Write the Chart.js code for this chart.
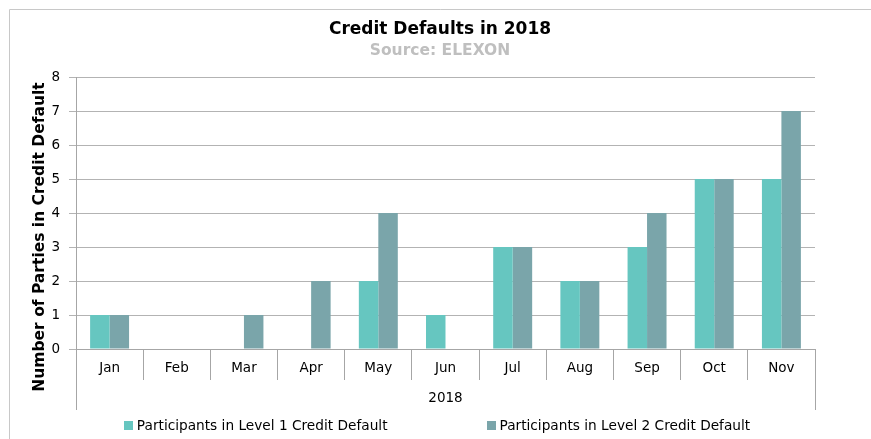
<!DOCTYPE html>
<html>
<head>
<meta charset="utf-8">
<script src="https://cdn.jsdelivr.net/npm/chart.js@4.4.1/dist/chart.umd.min.js"></script>
<style>
  html, body { margin: 0; padding: 0; background: #fff; }
  #wrap { width: 871px; height: 439px; }
</style>
</head>
<body>
<div id="wrap"><canvas id="myChart" width="871" height="439"></canvas></div>
<script>
var months = ['Jan', 'Feb', 'Mar', 'Apr', 'May', 'Jun', 'Jul', 'Aug', 'Sep', 'Oct', 'Nov'];
var level1 = [1, 0, 0, 0, 2, 1, 3, 2, 3, 5, 5];
var level2 = [1, 0, 1, 2, 4, 0, 3, 2, 4, 5, 7];
var yTicks = [0, 1, 2, 3, 4, 5, 6, 7, 8];

var FONT = '"DejaVu Sans", sans-serif';

// outer frame, y title, long end dividers and legend
var extras = {
  id: 'extras',
  beforeDraw: function (chart) {
    var ctx = chart.ctx;
    ctx.save();
    ctx.strokeStyle = '#c8c8c8';
    ctx.lineWidth = 1;
    ctx.beginPath();
    ctx.moveTo(9.5, chart.height);
    ctx.lineTo(9.5, 9.5);
    ctx.lineTo(chart.width, 9.5);
    ctx.stroke();
    ctx.restore();
  },
  afterDraw: function (chart) {
    var ctx = chart.ctx;
    var area = chart.chartArea;
    var x = chart.scales.x;
    ctx.save();
    // end dividers go down past the year label
    ctx.strokeStyle = '#a6a6a6';
    ctx.lineWidth = 1;
    ctx.beginPath();
    [x.left, x.right].forEach(function (px) {
      ctx.moveTo(Math.round(px) + 0.5, area.bottom);
      ctx.lineTo(Math.round(px) + 0.5, area.bottom + 61);
    });
    ctx.stroke();

    // y axis title
    ctx.fillStyle = '#000';
    ctx.font = 'bold 15.5px ' + FONT;
    ctx.textAlign = 'center';
    ctx.textBaseline = 'middle';
    ctx.translate(40, 237);
    ctx.rotate(-Math.PI / 2);
    ctx.fillText('Number of Parties in Credit Default', 0, 0);
    ctx.setTransform(1, 0, 0, 1, 0, 0);

    // legend
    ctx.font = '13.7px ' + FONT;
    ctx.textAlign = 'left';
    var items = chart.data.datasets.map(function (ds) {
      return { text: ds.label, color: ds.backgroundColor, w: ctx.measureText(ds.label).width };
    });
    var box = 9, gapText = 4, gapItem = 99;
    var total = 0;
    items.forEach(function (it, i) { total += box + gapText + it.w + (i ? gapItem : 0); });
    var cx = 437 - total / 2;
    var cy = 425;
    items.forEach(function (it) {
      ctx.fillStyle = it.color;
      ctx.fillRect(Math.round(cx), cy - 4, box, box);
      ctx.fillStyle = '#000';
      ctx.fillText(it.text, cx + box + gapText, cy + 1);
      cx += box + gapText + it.w + gapItem;
    });
    ctx.restore();
  }
};

var ctx = document.getElementById('myChart');
var myChart = new Chart(ctx, {
  type: 'bar',
  data: {
    labels: months,
    datasets: [{
      label: 'Participants in Level 1 Credit Default',
      data: level1,
      backgroundColor: '#66c6c0',
      borderWidth: 0
    }, {
      label: 'Participants in Level 2 Credit Default',
      data: level2,
      backgroundColor: '#7aa5aa',
      borderWidth: 0
    }]
  },
  options: {
    responsive: false,
    animation: false,
    categoryPercentage: 0.58,
    barPercentage: 1.0,
    layout: { padding: { left: 9, right: 0, top: 0, bottom: 28 } },
    plugins: {
      legend: { display: false },
      tooltip: { enabled: false },
      title: {
        display: true,
        text: 'Credit Defaults in 2018',
        color: '#000',
        font: { family: FONT, size: 17, weight: 'bold' },
        padding: { top: 19, bottom: 0 }
      },
      subtitle: {
        display: true,
        text: 'Source: ELEXON',
        color: '#bfbfbf',
        font: { family: FONT, size: 15.5, weight: 'bold' },
        padding: { top: 2, bottom: 17 }
      }
    },
    scales: {
      x: {
        offset: true,
        grid: {
          offset: true,
          drawOnChartArea: false,
          drawTicks: true,
          tickLength: 31,
          color: '#a6a6a6'
        },
        border: { color: '#a6a6a6' },
        ticks: {
          color: '#000',
          padding: -20,
          font: { family: FONT, size: 13.5 }
        },
        title: {
          display: true,
          text: '2018',
          color: '#000',
          font: { family: FONT, size: 13.5 },
          padding: { top: 0, bottom: 4 }
        },
        afterFit: function (scale) { scale.height = 62; }
      },
      y: {
        min: yTicks[0],
        max: yTicks[yTicks.length - 1],
        grid: { color: '#b3b3b3', tickLength: 7 },
        border: { color: '#a6a6a6' },
        ticks: {
          stepSize: 1,
          color: '#000',
          padding: 9,
          font: { family: FONT, size: 13.5 },
          callback: function (v) { return yTicks.indexOf(v) >= 0 ? String(v) : ''; }
        },
        afterFit: function (scale) { scale.width = 67; }
      },
      // empty right-hand spacer so the title centres like the original
      yRight: {
        position: 'right',
        grid: { display: false },
        border: { display: false },
        ticks: { display: false },
        afterFit: function (scale) { scale.width = 56; }
      }
    }
  },
  plugins: [extras]
});
</script>
</body>
</html>
